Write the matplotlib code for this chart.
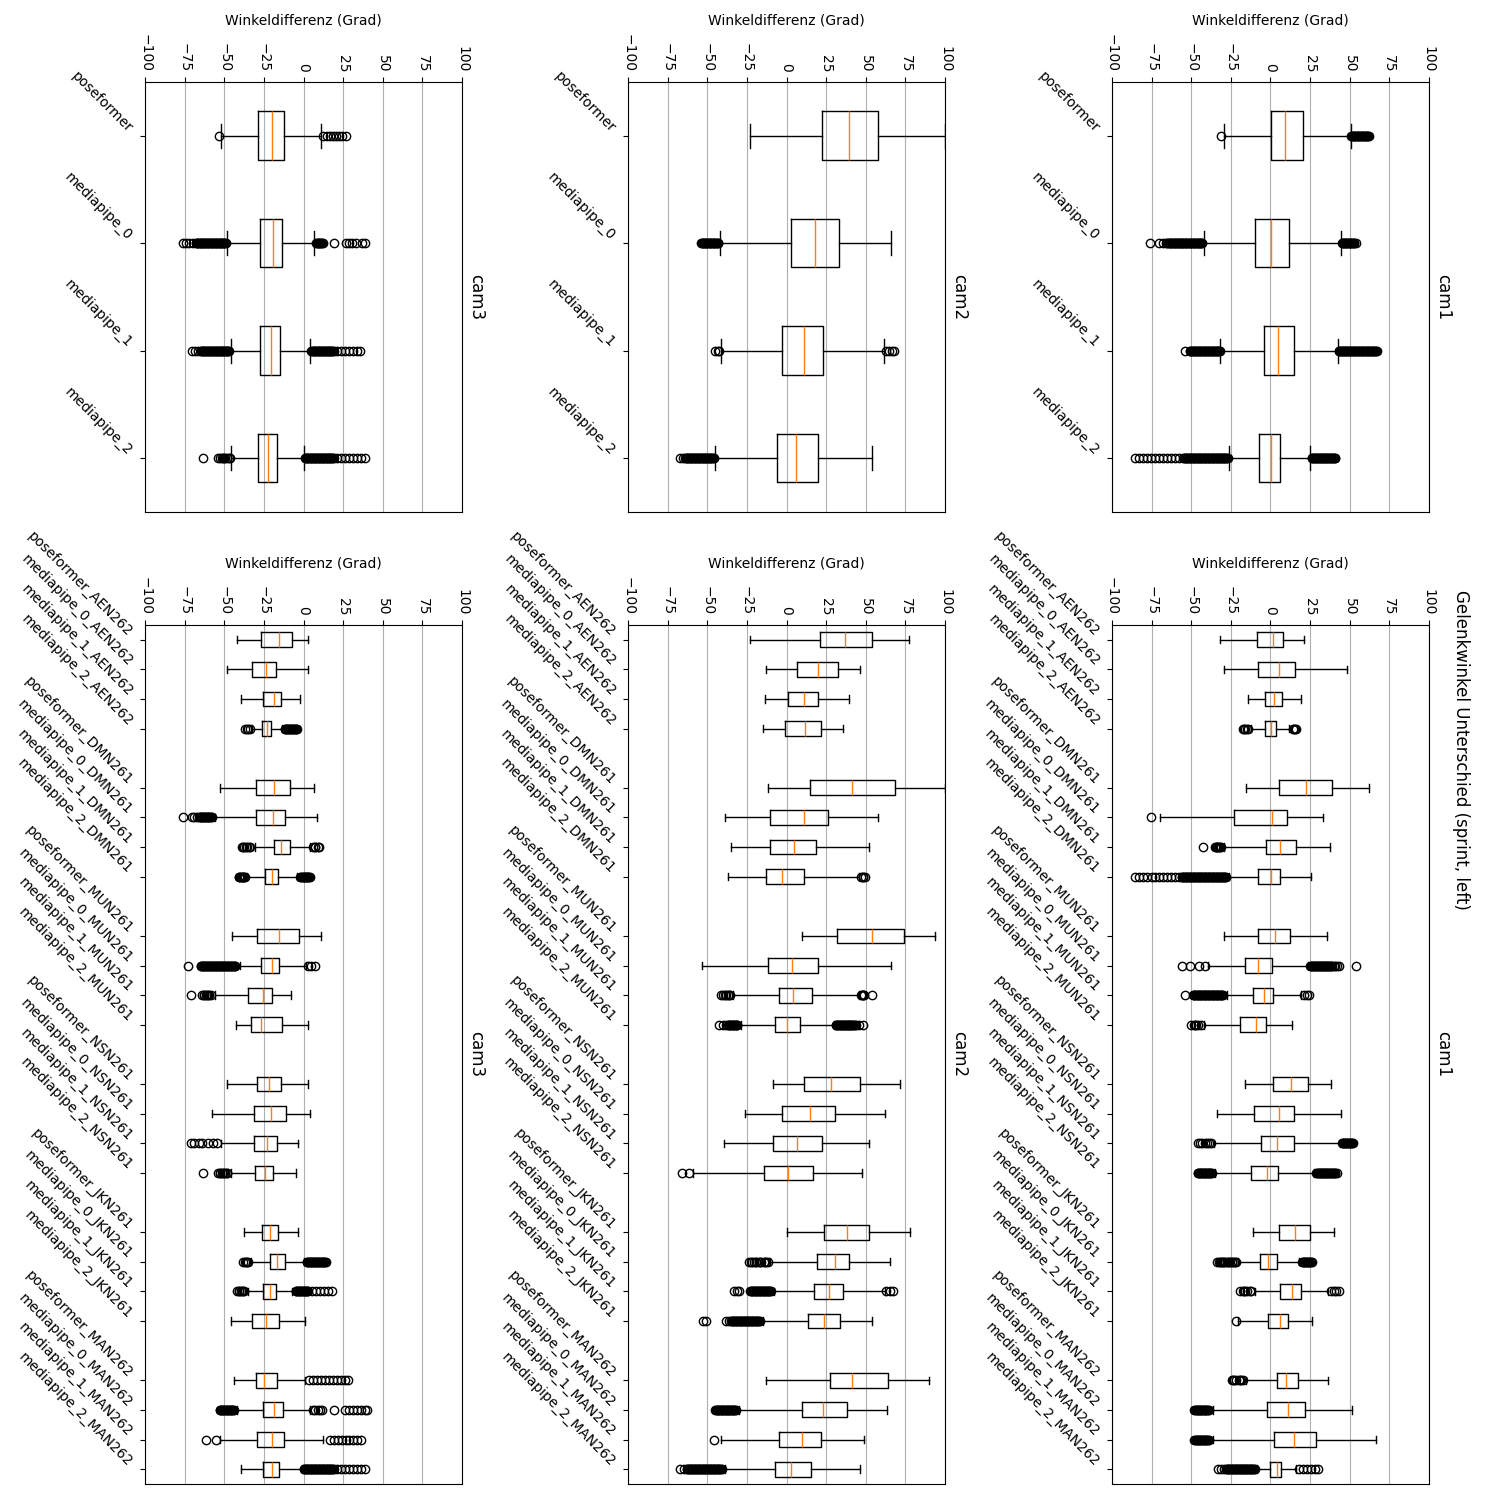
import matplotlib
matplotlib.use("Agg")
import matplotlib.pyplot as plt

# Gelenkwinkel-Differenzen (sprint, left) pro Kamera
models = ["poseformer", "mediapipe_0", "mediapipe_1", "mediapipe_2"]
subjects = ["AEN262", "DMN261", "MUN261", "NSN261", "JKN261", "MAN262"]
value_ticks = [-100, -75, -50, -25, 0, 25, 50, 75, 100]

# ---------------- cam1 ----------------
cam1_all_q1 = [0.2, -9.7, -4.0, -7.1]
cam1_all_med = [9.2, 0.2, 4.8, 0.2]
cam1_all_q3 = [20.6, 11.8, 14.9, 6.1]
cam1_all_lo = [-29.2, -42.2, -31.7, -26.0]
cam1_all_hi = [50.6, 44.7, 42.6, 25.0]
cam1_all_fliers = [
    [-31.3, 51, 51.5, 52, 52.5, 53, 53.5, 54, 54.5, 55, 55.5, 56, 56.5, 57, 57.5, 58, 58.5,
     59, 59.5, 60, 60.5, 61, 61.5, 62],
    [-76, -70, -68, -66, -65, -64.5, -64, -63.5, -63, -62.5, -62, -61.5, -61, -60.5, -60,
     -59.5, -59, -58.5, -58, -57.5, -57, -56.5, -56, -55.5, -55, -54.5, -54, -53.5, -53,
     -52.5, -52, -51.5, -51, -50.5, -50, -49.5, -49, -48.5, -48, -47.5, -47, -46.5, -46,
     -45.5, -45, -44.5, -44, -43.5, -43,
     45, 45.5, 46, 46.5, 47, 47.5, 48, 48.5, 49, 49.5, 50, 50.5, 51, 51.5, 52, 52.5, 53, 54],
    [-54, -51, -50.5, -50, -49.5, -49, -48.5, -48, -47.5, -47, -46.5, -46, -45.5, -45,
     -44.5, -44, -43.5, -43, -42.5, -42, -41.5, -41, -40.5, -40, -39.5, -39, -38.5, -38,
     -37.5, -37, -36.5, -36, -35.5, -35, -34.5, -34, -33.5, -33, -32.5, -32,
     43, 43.5, 44, 44.5, 45, 45.5, 46, 46.5, 47, 47.5, 48, 48.5, 49, 49.5, 50, 50.5, 51,
     51.5, 52, 52.5, 53, 53.5, 54, 54.5, 55, 55.5, 56, 56.5, 57, 57.5, 58, 58.5, 59, 59.5,
     60, 60.5, 61, 61.5, 62, 62.5, 63, 63.5, 64, 64.5, 65, 65.5, 66, 66.5, 67],
    [-85.5, -83, -80.5, -78, -75.5, -73, -70.5, -68, -65.5, -63, -60.5, -58,
     -55, -54.5, -54, -53.5, -53, -52.5, -52, -51.5, -51, -50.5, -50, -49.5, -49, -48.5,
     -48, -47.5, -47, -46.5, -46, -45.5, -45, -44.5, -44, -43.5, -43, -42.5, -42, -41.5,
     -41, -40.5, -40, -39.5, -39, -38.5, -38, -37.5, -37, -36.5, -36, -35.5, -35, -34.5,
     -34, -33.5, -33, -32.5, -32, -31.5, -31, -30.5, -30, -29.5, -29, -28.5, -28, -27.5, -27,
     26, 26.5, 27, 27.5, 28, 28.5, 29, 29.5, 30, 30.5, 31, 31.5, 32, 32.5, 33, 33.5, 34,
     34.5, 35, 35.5, 36, 36.5, 37, 37.5, 38, 38.5, 39, 39.5, 40, 40.5, 41],
]

cam1_subj_q1 = [-8.4, -7.8, -3.4, -3.4, 5.5, -22.9, -2.7, -7.8, -7.8, -16.2, -10.9, -19.1,
                1.7, -10.3, -5.9, -12.2, 5.5, -6.5, 6.1, -1.5, 4.2, -2.1, 2.3, -0.2]
cam1_subj_med = [1.7, 5.7, 2.5, 0.4, 22.5, 1.1, 6.1, 0.4, 3.2, -7.8, -4.0, -9.0,
                 13.0, 5.7, 4.2, -2.1, 15.5, -1.5, 13.7, 6.1, 9.9, 11.1, 14.9, 4.2]
cam1_subj_q3 = [8.0, 15.5, 7.6, 3.6, 38.9, 10.7, 16.4, 6.3, 12.4, 1.1, 1.7, -2.7,
                23.7, 14.9, 14.9, 5.0, 25.2, 4.4, 19.5, 11.1, 17.4, 22.1, 29.0, 6.9]
cam1_subj_lo = [-31.9, -29.6, -14.1, -12.5, -15.3, -69.7, -29.0, -26.0, -29.2, -39.3, -27.7, -42.0,
                -16.0, -33.6, -35.7, -35.0, -10.9, -20.4, -9.7, -20.4, -15.1, -36.0, -36.0, -8.5]
cam1_subj_hi = [21.4, 48.5, 19.5, 12.0, 62.4, 33.2, 37.8, 25.6, 35.9, 23.7, 19.5, 13.7,
                38.2, 44.7, 44.0, 27.3, 40.3, 18.0, 36.3, 26.3, 36.6, 51.7, 66.8, 16.0]
cam1_subj_fliers = [
    [], [], [],
    [-17.5, -16.5, -16, -15, -14, 14, 15, 15.5, 16],
    [],
    [-75.6],
    [-42.4, -35, -34.5, -34, -33.5, -33, -32.5, -32, -31],
    [-85.5, -83, -80.5, -78, -75, -73, -70, -67.5, -65, -62.5, -60, -58,
     -56, -55.5, -55, -54.5, -54, -53.5, -53, -52.5, -52, -51.5, -51, -50.5, -50, -49.5,
     -49, -48.5, -48, -47.5, -47, -46.5, -46, -45.5, -45, -44.5, -44, -43.5, -43, -42.5,
     -42, -41.5, -41, -40.5, -40, -39.5, -39, -38.5, -38, -37.5, -37, -36.5, -36, -35.5,
     -35, -34.5, -34, -33.5, -33, -32.5, -32, -31.5, -31, -30.5, -30, -29.5, -29, -28.5, -28],
    [],
    [-55.5, -50.8, -45, -41.4,
     25, 25.5, 26, 26.5, 27, 27.5, 28, 28.5, 29, 29.5, 30, 30.5, 31, 31.5, 32, 32.5, 33,
     33.5, 34, 34.5, 35, 35.5, 36, 36.5, 37, 37.5, 38, 38.5, 39, 40, 41, 42, 43, 53.8],
    [-54, -49, -48.5, -48, -47.5, -47, -46.5, -46, -45.5, -45, -44.5, -44, -43.5, -43,
     -42.5, -42, -41.5, -41, -40.5, -40, -39.5, -39, -38.5, -38, -37.5, -37, -36.5, -36,
     -35.5, -35, -34.5, -34, -33.5, -33, -32.5, -32, -31.5, -31, -30.5, -30,
     21.5, 23, 24.5],
    [-50, -48.5, -47.5, -47, -45.5, -44],
    [], [],
    [-46, -44.5, -43, -41.5, -40, -38.5, -37.5,
     45, 45.5, 46, 46.5, 47, 47.5, 48, 48.5, 49, 49.5, 50, 50.5, 51, 51.5, 52],
    [-46, -45.5, -45, -44.5, -44, -43.5, -43, -42.5, -42, -41.5, -41, -40.5, -40, -39.5,
     -39, -38.5, -38, -37.5, -37,
     29, 29.5, 30, 30.5, 31, 31.5, 32, 32.5, 33, 33.5, 34, 34.5, 35, 35.5, 36, 36.5, 37,
     37.5, 38, 38.5, 39, 39.5, 40, 40.5, 41, 42],
    [],
    [-33.5, -32.5, -32, -31.5, -30.5, -30, -29, -28.5, -27.5, -27, -26, -25.5, -24.5, -24,
     -23, -22.5, -22, 20, 20.5, 21, 21.5, 22, 22.5, 23, 23.5, 24, 24.5, 25, 25.5, 26],
    [-19, -17.5, -16.5, -16, -14.5, -13, -12, 38, 40, 41.5, 43],
    [-22],
    [-24.5, -23.5, -23, -21.5, -20, -19, -18.5, -17],
    [-48, -47.5, -47, -46.5, -46, -45.5, -45, -44.5, -44, -43.5, -43, -42.5, -42, -41.5,
     -41, -40.5, -40, -39.5, -39],
    [-48, -47.5, -47, -46.5, -46, -45.5, -45, -44.5, -44, -43.5, -43, -42.5, -42, -41.5,
     -41, -40.5, -40, -39.5, -39],
    [-33, -31, -29.5, -28, -27.5, -27, -26.5, -26, -25.5, -25, -24.5, -24, -23.5, -23,
     -22.5, -22, -21.5, -21, -20.5, -20, -19.5, -19, -18.5, -18, -17.5, -17, -16.5, -16,
     -15.5, -15, -14.5, -14, -13.5, -13, -12.5, -12, -11.5, -11, -10.5, -10,
     18, 20.5, 23, 25.5, 28, 30],
]

# ---------------- cam2 ----------------
cam2_all_q1 = [22.5, 2.9, -2.7, -5.9]
cam2_all_med = [39.5, 18.1, 11.1, 5.7]
cam2_all_q3 = [57.8, 33.2, 23.1, 20.0]
cam2_all_lo = [-22.9, -41.8, -41.2, -45.0]
cam2_all_hi = [100.0, 66.2, 61.5, 54.0]
cam2_all_fliers = [
    [],
    [-54, -53.5, -53, -52.5, -52, -51.5, -51, -50.5, -50, -49.5, -49, -48.5, -48, -47.5,
     -47, -46.5, -46, -45.5, -45, -44.5, -44, -43.5, -43],
    [-45, -43.5, -42.5, 62.5, 64.5, 66.5, 68],
    [-67.5, -65.5, -64, -63.5, -63, -62.5, -62, -61.5, -61, -60.5, -60, -59.5, -59, -58.5,
     -58, -57.5, -57, -56.5, -56, -55.5, -55, -54.5, -54, -53.5, -53, -52.5, -52, -51.5,
     -51, -50.5, -50, -49.5, -49, -48.5, -48, -47.5, -47, -46.5, -46],
]

cam2_subj_q1 = [21.2, 6.7, 1.1, -0.8, 14.9, -10.3, -10.3, -12.8, 31.9, -11.6, -4.6, -7.1,
                11.1, -2.7, -8.4, -14.1, 23.7, 19.3, 17.4, 13.7, 27.5, 9.9, -4.6, -7.1]
cam2_subj_med = [37.0, 20.0, 11.1, 11.8, 41.4, 11.1, 4.8, -2.7, 54.0, 3.2, 4.2, 0.4,
                 28.2, 14.9, 6.7, 1.1, 38.2, 30.7, 26.9, 23.7, 41.4, 23.1, 9.9, 2.9]
cam2_subj_q3 = [54.0, 32.6, 20.0, 21.8, 68.5, 26.3, 18.7, 11.1, 74.2, 20.0, 16.2, 8.6,
                46.6, 30.3, 22.5, 16.8, 52.3, 39.7, 35.7, 33.8, 64.1, 38.2, 21.8, 15.5]
cam2_subj_lo = [-22.9, -12.8, -13.4, -14.9, -11.6, -38.9, -34.9, -36.8, 9.9, -53.6, -33.6, -28.8,
                -8.4, -26.0, -39.3, -59.2, 0.0, -10.5, -7.8, -14.7, -12.8, -29.8, -41.4, -38.7]
cam2_subj_hi = [77.3, 46.6, 39.5, 35.7, 100.0, 58.0, 52.3, 45.8, 93.9, 66.2, 45.5, 30.0,
                71.8, 62.4, 52.3, 47.9, 78.2, 65.5, 62.0, 54.2, 89.9, 63.7, 49.2, 46.6]
cam2_subj_fliers = [
    [], [], [], [], [], [], [],
    [47, 48, 48.5, 49.5],
    [], [],
    [-41.5, -40, -39, -38.5, -37, -36, -35.5, 47, 47.5, 48, 48.5, 49, 54],
    [-42.5, -40, -38, -37, -36.5, -36, -35.5, -35, -34.5, -34, -33.5, -33, -32.5, -32,
     -31.5, -31,
     31, 31.5, 32, 32.5, 33, 33.5, 34, 34.5, 35, 35.5, 36, 36.5, 37, 37.5, 38, 38.5, 39,
     39.5, 40, 40.5, 41, 41.5, 42, 42.5, 43, 44, 46, 48.5],
    [], [], [],
    [-66, -61.8],
    [],
    [-23.5, -22.5, -22, -20.5, -19.5, -19, -17.5, -16.5, -16, -14.5, -13.5, -13, -12],
    [-33, -31.5, -30, -23, -22.5, -22, -21.5, -21, -20.5, -20, -19.5, -19, -18.5, -18,
     -17.5, -17, -16.5, -16, -15.5, -15, -14.5, -14, -13.5, -13, -12.5, -12, -11.5, -11,
     -10.5, -10, 63, 65, 67.5],
    [-52.5, -50.5, -38.5, -36.5, -35, -34.5, -34, -33.5, -33, -32.5, -32, -31.5, -31,
     -30.5, -30, -29.5, -29, -28.5, -28, -27.5, -27, -26.5, -26, -25.5, -25, -24.5, -24,
     -23.5, -23, -22.5, -22, -21.5, -21, -20.5, -20, -19.5, -19, -18.5, -18, -17.5, -17],
    [],
    [-45, -44.5, -44, -43.5, -43, -42.5, -42, -41.5, -41, -40.5, -40, -39.5, -39, -38.5,
     -38, -37.5, -37, -36.5, -36, -35.5, -35, -34.5, -34, -33.5, -33, -32.5, -32],
    [-45.6],
    [-67, -65, -63, -62.5, -62, -61.5, -61, -60.5, -60, -59.5, -59, -58.5, -58, -57.5,
     -57, -56.5, -56, -55.5, -55, -54.5, -54, -53.5, -53, -52.5, -52, -51.5, -51, -50.5,
     -50, -49.5, -49, -48.5, -48, -47.5, -47, -46.5, -46, -45.5, -45, -44.5, -44, -43.5,
     -43, -42.5, -42, -41.5, -41],
]

# ---------------- cam3 ----------------
cam3_all_q1 = [-28.6, -27.3, -27.3, -28.6]
cam3_all_med = [-19.7, -19.1, -20.4, -22.3]
cam3_all_q3 = [-12.2, -13.4, -14.7, -16.6]
cam3_all_lo = [-52.3, -48.1, -46.0, -45.6]
cam3_all_hi = [11.1, 6.9, 4.2, 0.4]
cam3_all_fliers = [
    [-53.4, 12.5, 14.5, 16.5, 18.5, 20.5, 22.5, 24.5, 27],
    [-76, -74, -72, -70, -68, -67.5, -67, -66.5, -66, -65.5, -65, -64.5, -64, -63.5, -63,
     -62.5, -62, -61.5, -61, -60.5, -60, -59.5, -59, -58.5, -58, -57.5, -57, -56.5, -56,
     -55.5, -55, -54.5, -54, -53.5, -53, -52.5, -52, -51.5, -51, -50.5, -50, -49.5, -49,
     8, 8.5, 9, 9.5, 10, 10.5, 11, 11.5, 12, 19, 26.5, 28.5, 30.5, 33, 37, 39],
    [-70.5, -68.5, -66.5, -65, -64.5, -64, -63.5, -63, -62.5, -62, -61.5, -61, -60.5, -60,
     -59.5, -59, -58.5, -58, -57.5, -57, -56.5, -56, -55.5, -55, -54.5, -54, -53.5, -53,
     -52.5, -52, -51.5, -51, -50.5, -50, -49.5, -49, -48.5, -48, -47.5, -47,
     5, 5.5, 6, 6.5, 7, 7.5, 8, 8.5, 9, 9.5, 10, 10.5, 11, 11.5, 12, 12.5, 13, 13.5, 14,
     14.5, 15, 15.5, 16, 16.5, 17, 17.5, 18, 18.5, 19,
     21, 23.5, 26, 28.5, 31, 33.5, 35.5],
    [-63.2, -54, -52.5, -51.5, -51, -50, -49.5, -48, -47, -46.5,
     1, 1.5, 2, 2.5, 3, 3.5, 4, 4.5, 5, 5.5, 6, 6.5, 7, 7.5, 8, 8.5, 9, 9.5, 10, 10.5, 11,
     11.5, 12, 12.5, 13, 13.5, 14, 14.5, 15, 15.5, 16, 16.5, 17, 17.5, 18, 18.5, 19,
     21, 23.5, 26, 28.5, 31, 33.5, 36, 38.5],
]

cam3_subj_q1 = [-26.7, -32.4, -25.4, -26.0, -29.8, -29.8, -18.5, -24.2, -29.2, -26.7, -34.9, -33.0,
                -29.2, -31.1, -31.1, -30.5, -26.0, -21.0, -25.4, -32.4, -29.8, -25.4, -29.2, -25.4]
cam3_subj_med = [-15.3, -23.5, -18.5, -22.9, -18.5, -19.1, -14.1, -19.7, -15.3, -19.7, -25.4, -26.7,
                 -21.6, -20.4, -22.9, -24.2, -21.0, -16.6, -21.0, -23.5, -24.8, -18.5, -19.7, -19.7]
cam3_subj_q3 = [-7.1, -17.2, -14.1, -20.4, -8.4, -11.6, -8.4, -16.0, -2.7, -15.3, -19.7, -13.4,
                -14.1, -10.9, -16.6, -19.1, -16.0, -11.6, -17.2, -15.3, -16.6, -12.8, -12.2, -15.3]
cam3_subj_lo = [-41.8, -48.1, -39.3, -32.4, -52.9, -56.0, -30.9, -35.5, -45.0, -40.3, -56.0, -42.4,
                -48.1, -57.6, -52.3, -45.6, -37.4, -33.0, -35.1, -45.6, -43.7, -42.0, -52.7, -39.3]
cam3_subj_hi = [2.9, 2.9, -2.1, -13.4, 6.9, 8.8, 4.4, -4.0, 11.1, 1.3, -7.8, 2.9,
                2.9, 4.2, -3.4, -4.6, -3.8, 0.2, -7.1, 1.1, 1.0, 4.4, 12.4, -0.8]
cam3_subj_fliers = [
    [], [], [],
    [-37, -35.5, -35, -34, -12, -11.5, -11, -10.5, -10, -9.5, -9, -8.5, -8, -7.5, -7, -6.5,
     -6, -5.5, -5, -4.5, -4],
    [],
    [-75.8, -70.5, -69, -67.5, -66, -65.5, -65, -64.5, -64, -63.5, -63, -62.5, -62, -61.5,
     -61, -60.5, -60, -59.5, -59, -58.5, -58],
    [-39, -38, -37.5, -36, -35.5, -34.5, -33.5, 6, 7, 7.5, 9, 10],
    [-41, -40.5, -40, -39.5, -39, -38.5, -38, -37.5, -37,
     -2, -1.5, -1, -0.5, 0, 0.5, 1, 1.5, 2, 2.5, 3, 3.5, 4],
    [],
    [-72.7, -65, -64.5, -64, -63.5, -63, -62.5, -62, -61.5, -61, -60.5, -60, -59.5, -59,
     -58.5, -58, -57.5, -57, -56.5, -56, -55.5, -55, -54.5, -54, -53.5, -53, -52.5, -52,
     -51.5, -51, -50.5, -50, -49.5, -49, -48.5, -48, -47.5, -47, -46.5, -46, -45.5, -45,
     -44.5, -44, -43.5, -43, 3, 5, 7],
    [-70.8, -64, -63, -62.5, -61.5, -61, -60, -59.5, -58.5],
    [], [], [],
    [-71, -69, -66, -64, -60, -57, -54.5],
    [-63.2, -54, -53, -52.5, -51.5, -51, -50, -49.5, -48.5, -48],
    [],
    [-38, -37, -36.5, -35.5, -35,
     2, 2.5, 3, 3.5, 4, 4.5, 5, 5.5, 6, 6.5, 7, 7.5, 8, 8.5, 9, 9.5, 10, 10.5, 11, 11.5, 12,
     12.5, 13, 13.5, 14],
    [-42, -41, -40.5, -39.5, -39, -38, -37.5,
     -5, -4.5, -4, -3.5, -3, -2.5, -2, -1.5, -1, -0.5, 0, 0.5, 1, 1.5, 2, 2.5, 3,
     5.5, 8, 10.5, 13, 15.5, 18],
    [],
    [3.5, 6, 8.5, 11, 13.5, 16, 18.5, 21, 23.5, 26, 28],
    [-53, -52.5, -52, -51.5, -51, -50.5, -50, -49.5, -49, -48.5, -48, -47.5, -47, -46.5,
     -46, -45.5, -45, -44.5, -44,
     6, 7.5, 9, 10.5, 11.5, 19, 26, 28.5, 31, 33.5, 36, 38.5, 40],
    [-61.8, -55.5, 16.5, 19, 21.5, 24, 26.5, 29, 31.5, 34, 36],
    [0, 0.5, 1, 1.5, 2, 2.5, 3, 3.5, 4, 4.5, 5, 5.5, 6, 6.5, 7, 7.5, 8, 8.5, 9, 9.5, 10,
     10.5, 11, 11.5, 12, 12.5, 13, 13.5, 14, 14.5, 15, 15.5, 16, 16.5, 17, 17.5, 18, 18.5, 19,
     21, 23.5, 26, 28.5, 31, 33.5, 36, 38.5],
]


def box_stats(q1, med, q3, lo, hi, fliers):
    # bxp wants one dict per box
    return [dict(q1=a, med=b, q3=c, whislo=d, whishi=e, fliers=f)
            for a, b, c, d, e, f in zip(q1, med, q3, lo, hi, fliers)]


cam_data = {
    "cam1": (box_stats(cam1_all_q1, cam1_all_med, cam1_all_q3, cam1_all_lo, cam1_all_hi, cam1_all_fliers),
             box_stats(cam1_subj_q1, cam1_subj_med, cam1_subj_q3, cam1_subj_lo, cam1_subj_hi, cam1_subj_fliers)),
    "cam2": (box_stats(cam2_all_q1, cam2_all_med, cam2_all_q3, cam2_all_lo, cam2_all_hi, cam2_all_fliers),
             box_stats(cam2_subj_q1, cam2_subj_med, cam2_subj_q3, cam2_subj_lo, cam2_subj_hi, cam2_subj_fliers)),
    "cam3": (box_stats(cam3_all_q1, cam3_all_med, cam3_all_q3, cam3_all_lo, cam3_all_hi, cam3_all_fliers),
             box_stats(cam3_subj_q1, cam3_subj_med, cam3_subj_q3, cam3_subj_lo, cam3_subj_hi, cam3_subj_fliers)),
}
col_left = {"cam1": 0.7413, "cam2": 0.4187, "cam3": 0.0967}

top_pos = [1, 2, 3, 4]
top_labels = models
subj_pos = [5 * g + i + 1 for g in range(len(subjects)) for i in range(len(models))]
subj_labels = [m + "_" + s for s in subjects for m in models]


def style_axis(ax, pos, labels, title):
    ax.set_xlim(-100, 100)
    ax.set_ylim(max(pos) + 0.5, 0.5)
    ax.set_yticks(pos)
    ax.set_yticklabels(labels, rotation=-45, ha="right", va="bottom")
    ax.xaxis.tick_top()
    ax.xaxis.set_label_position("top")
    ax.set_xticks(value_ticks)
    ax.tick_params(axis="x", labelrotation=-90)
    ax.set_xlabel("Winkeldifferenz (Grad)", labelpad=7)
    ax.grid(axis="x")
    ax.text(1.017, 0.5, title, rotation=-90, transform=ax.transAxes,
            ha="left", va="center", fontsize=12)


fig = plt.figure(figsize=(15, 15), dpi=100)

for cam, (stats_all, stats_subj) in cam_data.items():
    ax_top = fig.add_axes([col_left[cam], 0.6587, 0.2113, 0.2867])
    ax_top.bxp(stats_all, positions=top_pos, widths=0.45, orientation="horizontal", manage_ticks=False)
    style_axis(ax_top, top_pos, top_labels, cam)

    ax_bot = fig.add_axes([col_left[cam], 0.0107, 0.2113, 0.5727])
    ax_bot.bxp(stats_subj, positions=subj_pos, widths=0.5, orientation="horizontal", manage_ticks=False)
    style_axis(ax_bot, subj_pos, subj_labels, cam)

fig.text(0.974, 0.5, "Gelenkwinkel Unterschied (sprint, left)", rotation=-90,
         ha="center", va="center", fontsize=12)

fig.savefig("out.png", dpi=100)
